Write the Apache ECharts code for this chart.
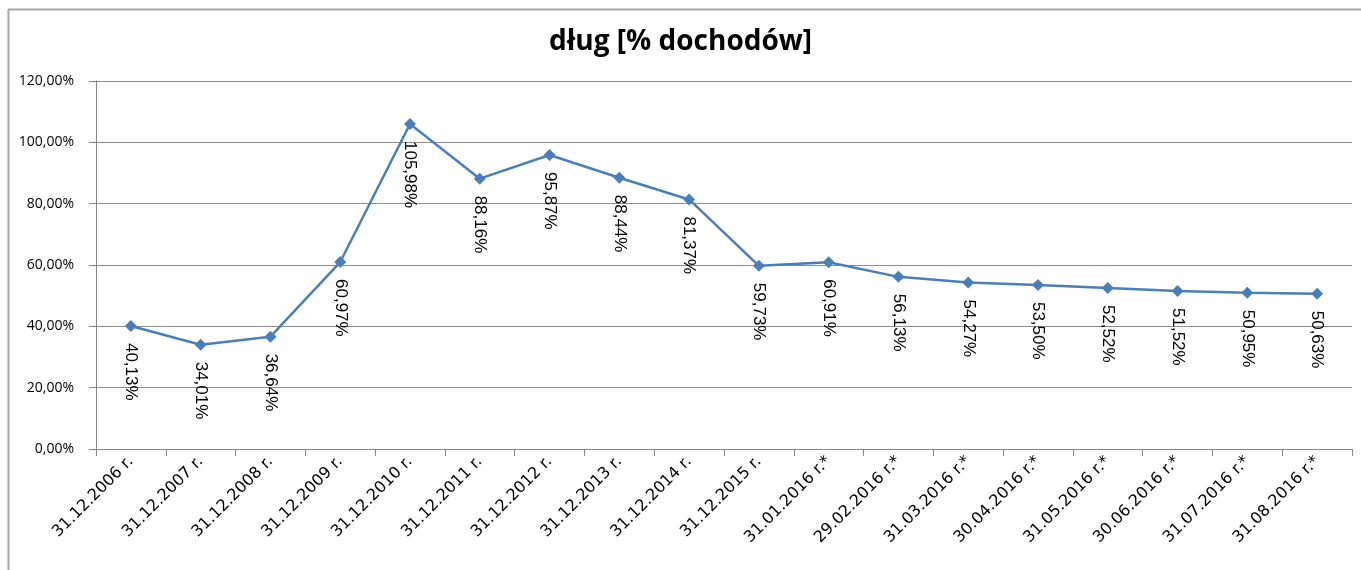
<!DOCTYPE html>
<html>
<head>
<meta charset="utf-8">
<script src="https://cdn.jsdelivr.net/npm/echarts@6/dist/echarts.min.js"></script>
<style>html,body{margin:0;padding:0;background:#fff;}#c{width:1361px;height:570px;}</style>
</head>
<body>
<div id="c"></div>
<script>
const titleText = 'dług [% dochodów]';
const categories = ['31.12.2006 r.','31.12.2007 r.','31.12.2008 r.','31.12.2009 r.','31.12.2010 r.','31.12.2011 r.','31.12.2012 r.','31.12.2013 r.','31.12.2014 r.','31.12.2015 r.','31.01.2016 r.*','29.02.2016 r.*','31.03.2016 r.*','30.04.2016 r.*','31.05.2016 r.*','30.06.2016 r.*','31.07.2016 r.*','31.08.2016 r.*'];
const debtPct = [40.13,34.01,36.64,60.97,105.98,88.16,95.87,88.44,81.37,59.73,60.91,56.13,54.27,53.50,52.52,51.52,50.95,50.63];
const yTicks = {min:0, max:120, interval:20};

const fmt = v => Number(v).toFixed(2).replace('.', ',') + '%';
const chart = echarts.init(document.getElementById('c'));
chart.setOption({
  animation:false,
  backgroundColor:'#fff',
  title:{text:titleText,left:'center',top:23,textStyle:{fontFamily:'"Open Sans", sans-serif',fontSize:28,fontWeight:'bold',color:'#000'}},
  graphic:[
    {type:'line',shape:{x1:8,y1:9.5,x2:1361,y2:9.5},style:{stroke:'#a6a6a6',lineWidth:2}},
    {type:'line',shape:{x1:8.5,y1:9,x2:8.5,y2:570},style:{stroke:'#a6a6a6',lineWidth:2}}
  ],
  grid:{left:96,right:9,top:81,bottom:121},
  xAxis:{type:'category',data:categories,boundaryGap:true,
    axisLine:{lineStyle:{color:'#888',width:1}},
    axisTick:{show:true,length:7,lineStyle:{color:'#888'}},
    axisLabel:{rotate:45,interval:0,margin:10,fontFamily:'"DejaVu Sans", sans-serif',fontSize:16,color:'#000'}},
  yAxis:{type:'value',min:yTicks.min,max:yTicks.max,interval:yTicks.interval,
    axisLine:{show:true,lineStyle:{color:'#888'}},
    axisTick:{show:true,length:7,lineStyle:{color:'#888'}},
    splitLine:{lineStyle:{color:'#8c8c8c',width:1}},
    axisLabel:{formatter:fmt,margin:22,fontFamily:'"Open Sans", sans-serif',fontSize:14,color:'#000'}},
  series:[{type:'line',data:debtPct,symbol:'diamond',symbolSize:12,
    lineStyle:{color:'#4a7ebb',width:2.5},itemStyle:{color:'#4a7ebb'},
    label:{show:true,position:'bottom',distance:11,rotate:-90,align:'left',verticalAlign:'middle',
      formatter:p=>fmt(p.value),fontFamily:'"Liberation Sans", Arial, sans-serif',fontSize:17,color:'#000'}}]
});
</script>
</body>
</html>
